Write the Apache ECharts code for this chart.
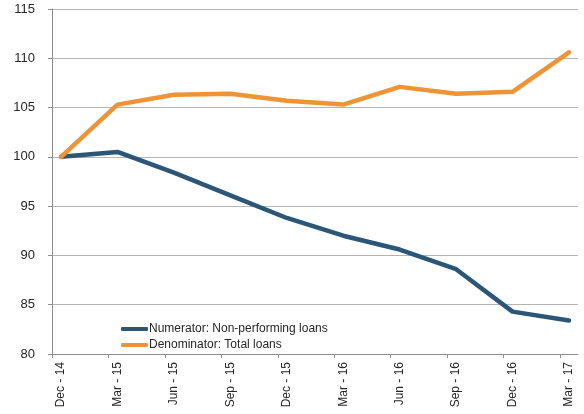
<!DOCTYPE html>
<html>
<head>
<meta charset="utf-8">
<script src="https://cdn.jsdelivr.net/npm/echarts@6/dist/echarts.min.js"></script>
<style>
  html, body { margin: 0; padding: 0; background: #fff; }
  #chart { width: 584px; height: 414px; }
</style>
</head>
<body>
<div id="chart"></div>
<script>
// 季度标签
const quarters = ['Dec - 14', 'Mar - 15', 'Jun - 15', 'Sep - 15', 'Dec - 15', 'Mar - 16', 'Jun - 16', 'Sep - 16', 'Dec - 16', 'Mar - 17']
// 分子：不良贷款
const numerator = [100, 100.5, 98.4, 96.1, 93.8, 92.0, 90.6, 88.6, 84.3, 83.4]
// 分母：贷款总额
const denominator = [100, 105.3, 106.3, 106.4, 105.7, 105.3, 107.1, 106.4, 106.6, 110.6]
const yTicks = [80, 85, 90, 95, 100, 105, 110, 115]

const textFont = { fontFamily: 'Liberation Sans', fontSize: 12, color: '#262626' }
const gap = 0.16

const toPairs = arr => arr.map((v, i) => [i, v])

let chartDom = document.getElementById('chart')
let myChart = echarts.init(chartDom)

let options = {
  animation: false,
  grid: { left: 52, right: 6, top: 9, bottom: 60 },
  legend: {
    orient: 'vertical',
    left: 116,
    top: 318,
    itemWidth: 27,
    itemHeight: 4,
    itemGap: 4,
    icon: 'roundRect',
    textStyle: { ...textFont, fontSize: 12, padding: [0, 0, 0, -4] },
    data: ['Numerator: Non-performing loans', 'Denominator: Total loans']
  },
  xAxis: {
    type: 'value',
    min: -gap,
    max: quarters.length - 1 + gap,
    axisLine: { onZero: false, lineStyle: { color: '#8c8c8c' } },
    axisTick: {
      show: true,
      length: 4,
      customValues: quarters.map((q, i) => i - gap),
      lineStyle: { color: '#8c8c8c' }
    },
    axisLabel: {
      ...textFont,
      rotate: 90,
      margin: 8,
      customValues: quarters.map((q, i) => i),
      formatter: v => quarters[Math.round(v)] || ''
    },
    splitLine: { show: false }
  },
  yAxis: {
    type: 'value',
    min: yTicks[0],
    max: yTicks[yTicks.length - 1],
    interval: 5,
    axisLine: { show: true, onZero: false, lineStyle: { color: '#8c8c8c' } },
    axisTick: { show: true, length: 4, lineStyle: { color: '#8c8c8c' } },
    axisLabel: { ...textFont, fontSize: 13, margin: 17 },
    splitLine: { lineStyle: { color: '#b4b4b4' } }
  },
  series: [
    {
      name: 'Numerator: Non-performing loans',
      type: 'line',
      data: toPairs(numerator),
      symbol: 'none',
      color: '#2c5677',
      lineStyle: { width: 4.5, color: '#2c5677', cap: 'round', join: 'round' }
    },
    {
      name: 'Denominator: Total loans',
      type: 'line',
      data: toPairs(denominator),
      symbol: 'none',
      color: '#ee9336',
      lineStyle: { width: 4.5, color: '#ee9336', cap: 'round', join: 'round' }
    }
  ]
}
myChart.setOption(options)
</script>
</body>
</html>
